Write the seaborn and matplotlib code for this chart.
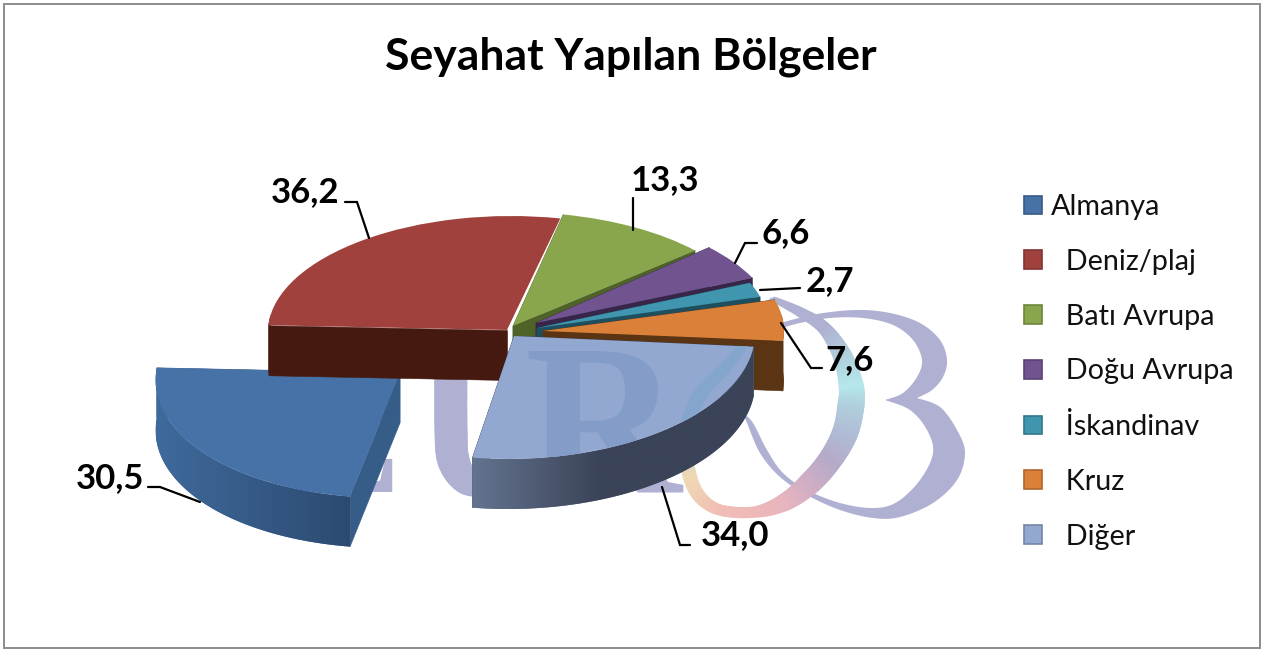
import numpy as np
import matplotlib
matplotlib.use("Agg")
import matplotlib.pyplot as plt
import seaborn as sns
from matplotlib.collections import PolyCollection
from matplotlib.colors import to_rgb
from matplotlib.font_manager import FontProperties
from matplotlib.patches import Patch, PathPatch, Polygon, Rectangle
from matplotlib.textpath import TextPath
from matplotlib.transforms import Affine2D

# ---- data -------------------------------------------------------------
categories = ["Almanya", "Deniz/plaj", "Batı Avrupa", "Doğu Avrupa", "İskandinav", "Kruz", "Diğer"]
values = [30.5, 36.2, 13.3, 6.6, 2.7, 7.6, 34.0]
title = "Seyahat Yapılan Bölgeler"

# ---- style / layout (pixels, y downwards) ------------------------------
W, H = 1266, 651
top_colors = ["#4672A8", "#A1413E", "#8AA64D", "#70538F", "#3F96AE", "#DB8039", "#92A8D0"]
side_a = ["#3F6A9C", "#45190F", "#4F6228", "#37264A", "#1F4F5F", "#5A3413", "#64748F"]
side_b = ["#2C4A70", "#45190F", "#4F6228", "#37264A", "#1F4F5F", "#5A3413", "#3A4358"]
side_speed = [1.0, 1, 1, 1, 1, 1, 2.2]
radial_c = ["#365C88", "#45190F", "#4F6228", "#37264A", "#1F4F5F", "#5A3413", "#3A4358"]
tips = [(400, 373), (507, 330), (513, 326), (536, 323), (537, 328), (543, 331), (514, 336)]
rxs = [244, 239, 243, 240, 232, 241, 241]
ry = [125, 114, 114, 114, 114, 114, 123]
shear = [14, 4, 0, -10, 0, 0, 6]
show_far_wall = [True, False, True, True, True, True, True]
depth = 50
start_angle = -98.5
label_pos = [(110, 478), (305, 192), (665, 180), (786, 233), (830, 281), (850, 360), (735, 535)]
leaders = [
    [(148, 487), (160, 487), (200, 502)],
    [(345, 202), (357, 202), (369, 238)],
    [(633, 198), (633, 230)],
    [(757, 243), (745, 243), (735, 263)],
    [(800, 288), (760, 290)],
    [(822, 368), (811, 368), (781, 323)],
    [(690, 545), (680, 545), (662, 487)],
]

sns.set_theme(style="white")
plt.rcParams["font.family"] = ["Lato", "DejaVu Sans"]
palette = sns.color_palette(top_colors)

fig = plt.figure(figsize=(W / 100, H / 100), dpi=100, facecolor="white")
ax = fig.add_axes([0, 0, 1, 1])
wedges, _ = ax.pie(values, colors=palette, startangle=start_angle, counterclock=False,
                   wedgeprops=dict(linewidth=0))
ax.set_aspect("auto")
ax.set_xlim(0, W)
ax.set_ylim(H, 0)
ax.axis("off")


def smooth(pts, widths=None, colors=None, n=20):
    """Catmull-Rom resampling of a poly-line, with optional widths and colours."""
    p = np.array(pts, float)
    p = np.vstack([p[0], p, p[-1]])
    out, ww, cc = [], [], []
    for i in range(1, len(p) - 2):
        for t in np.linspace(0, 1, n, endpoint=False):
            a, b, c, d = p[i - 1], p[i], p[i + 1], p[i + 2]
            out.append(0.5 * (2 * b + (c - a) * t + (2 * a - 5 * b + 4 * c - d) * t ** 2
                              + (3 * b - a - 3 * c + d) * t ** 3))
            if widths is not None:
                ww.append(widths[i - 1] + (widths[i] - widths[i - 1]) * t)
            if colors is not None:
                c0, c1 = np.array(to_rgb(colors[i - 1])), np.array(to_rgb(colors[i]))
                cc.append(c0 + (c1 - c0) * t)
    out.append(p[-2])
    if widths is not None:
        ww.append(widths[-1])
    if colors is not None:
        cc.append(np.array(to_rgb(colors[-1])))
    return np.array(out), np.array(ww), cc


def ribbon(pts, widths, colors, zorder=1, clip=None):
    c, w, cc = smooth(pts, widths, colors)
    d = np.gradient(c, axis=0)
    nrm = np.c_[-d[:, 1], d[:, 0]] / (np.linalg.norm(d, axis=1, keepdims=True) + 1e-9)
    a, b = c + nrm * w[:, None] / 2, c - nrm * w[:, None] / 2
    polys = [[a[i], a[i + 1], b[i + 1], b[i]] for i in range(len(c) - 1)]
    col = PolyCollection(polys, facecolors=cc[:-1], edgecolors=cc[:-1], linewidths=0.8, zorder=zorder)
    ax.add_collection(col, autolim=False)
    if clip is not None:
        col.set_clip_path(clip)
    return col


# ---- watermark behind the pie -------------------------------------------
wm = "#B0B0D2"
wm_over_slice = "#849CC8"
ring_over_slice = "#85A6CC"
wm_size_pt = 155
wm_baseline = 492
u_pts = [(451, 340), (451, 430), (454, 462), (468, 482), (495, 489)]
u_w = [32, 32, 31, 26, 14]
ring_pts = [(773, 299), (800, 312), (824, 328), (842, 355), (851, 385), (851, 405), (845, 433), (830, 460),
            (810, 483), (785, 502), (755, 512), (720, 510), (700, 497), (690, 477), (686, 450), (687, 425),
            (702, 392), (736, 355), (773, 299)]
ring_w = [4, 9, 12, 18, 24, 26, 25, 23, 22, 17, 10, 10, 12, 13, 13, 13, 13, 10, 4]
ring_c = ["#B0B0D2", "#B0B0D2", "#B0B0D2", "#B0CEDC", "#B5E8EC", "#B0D0DE", "#B0BCD6", "#B4AAC8", "#CFADC5",
          "#E6B5BE", "#EFB8B8", "#F0BDB5", "#F0CDB4", "#F0D8B4", "#D0D0C8", "#B0B0D2", "#B0B0D2", "#B0B0D2",
          "#B0B0D2"]
b_sections = [
    [(780, 323), (817, 314), (857, 310), (890, 313), (920, 323), (940, 340), (947, 360), (943, 377), (932, 390), (917, 398)],
    [(917, 398), (940, 407), (957, 430), (965, 453), (957, 480), (933, 503), (900, 517), (873, 518), (840, 510),
     (807, 495), (780, 477), (760, 453), (747, 423), (743, 413)],
    [(743, 413), (753, 423), (767, 450), (783, 473), (807, 490), (840, 503), (873, 508), (897, 502), (920, 480),
     (933, 453), (927, 430), (910, 410), (885, 400)],
    [(885, 400), (903, 393), (917, 377), (922, 360), (913, 340), (893, 325), (863, 318), (830, 318), (800, 323), (782, 328)],
]
serif = FontProperties(family="Liberation Serif", weight="bold")
ax.text(282, wm_baseline, "E", fontproperties=serif, fontsize=130, color=wm, va="baseline", ha="left", zorder=1)
ax.text(525, wm_baseline, "R", fontproperties=serif, fontsize=wm_size_pt, color=wm, va="baseline", ha="left", zorder=1)
ribbon(u_pts, u_w, [wm] * len(u_pts))
b_outline = np.vstack([smooth(sec)[0] for sec in b_sections])
ax.add_patch(Polygon(b_outline, closed=True, facecolor=wm, edgecolor="none", zorder=1))
ribbon(ring_pts, ring_w, ring_c)

# ---- 3-D pie built from the pie wedges ----------------------------------
for i, wedge in enumerate(wedges):
    z = 10 + i * 2
    tx, ty = tips[i]
    rx = rxs[i]
    # screen y is downward; angles are measured upward
    mat = np.array([[rx, shear[i], tx], [0, -ry[i], ty], [0, 0, 1]], float)
    wedge.set_transform(Affine2D(mat) + ax.transData)
    wedge.set_zorder(z + 1)
    th = np.radians(np.linspace(wedge.theta1, wedge.theta2, 160))
    ex, ey = tx + rx * np.cos(th) + shear[i] * np.sin(th), ty - ry[i] * np.sin(th)
    # radial walls
    ends = (0, -1) if show_far_wall[i] else (-1,)
    walls = [[(tx, ty), (ex[j], ey[j]), (ex[j], ey[j] + depth), (tx, ty + depth)] for j in ends]
    ax.add_collection(PolyCollection(walls, facecolors=radial_c[i], edgecolors=radial_c[i],
                                     linewidths=0.4, zorder=z), autolim=False)
    # outer wall (near side only), shaded left to right through a clipped gradient image
    near = np.sin(th) < 0.15
    if near.sum() > 1:
        nx, ny = ex[near], ey[near]
        verts = np.r_[np.c_[nx, ny], np.c_[nx, ny + depth][::-1]]
        poly = Polygon(verts, closed=True, facecolor=side_a[i], edgecolor="none", zorder=z)
        ax.add_patch(poly)
        if side_a[i] != side_b[i]:
            ca, cb = np.array(to_rgb(side_a[i])), np.array(to_rgb(side_b[i]))
            f = np.minimum(1.0, np.linspace(0, 1, 256) * side_speed[i])[:, None]
            grad = (ca + (cb - ca) * f)[None, :, :]
            im = ax.imshow(grad, extent=[nx.min(), nx.max(), ny.max() + depth, ny.min()], aspect="auto",
                           interpolation="bilinear", zorder=z)
            im.set_clip_path(poly)

# watermark seen through the front slice
front = wedges[-1]
logo_r = TextPath((0, 0), "R", size=wm_size_pt / 72 * 100, prop=serif)
logo_patch = PathPatch(logo_r, facecolor=wm_over_slice, edgecolor="none", zorder=30,
                       transform=Affine2D().scale(1, -1).translate(525, wm_baseline) + ax.transData)
ax.add_patch(logo_patch)
logo_patch.set_clip_path(front)
ribbon(ring_pts, ring_w, [ring_over_slice] * len(ring_pts), zorder=30, clip=front)

# ---- labels and leader lines ---------------------------------------------
for v, (x, y), pts in zip(values, label_pos, leaders):
    ax.text(x, y, f"{v:.1f}".replace(".", ","), fontsize=25, fontweight="bold", color="black",
            ha="center", va="center", zorder=40)
    ax.plot(*zip(*pts), color="black", lw=1.6, zorder=40, solid_joinstyle="miter")

ax.text(631, 57, title, fontsize=32, fontweight="bold", color="black", ha="center", va="center", zorder=40)

# ---- legend -----------------------------------------------------------------
handles = [Patch(facecolor=c, edgecolor=tuple(np.array(c) * 0.8), linewidth=1.2) for c in palette]
labels = [categories[0]] + ["\u00a0\u00a0" + c for c in categories[1:]]
ax.legend(handles, labels, loc="upper left", bbox_to_anchor=(1024 / W, 1 - 194 / H),
          bbox_transform=ax.transAxes, frameon=False, fontsize=20.7, borderpad=0, borderaxespad=0,
          handlelength=0.626, handleheight=0.626, handletextpad=0.31, labelspacing=1.0,
          labelcolor="#111111")

# ---- outer frame ------------------------------------------------------------
ax.add_patch(Rectangle((4, 4), 1256, 644, fill=False, edgecolor="#8C8C8C", linewidth=1.4, zorder=50))

ax.set_xlim(0, W)
ax.set_ylim(H, 0)
fig.savefig("out.png", dpi=100)
